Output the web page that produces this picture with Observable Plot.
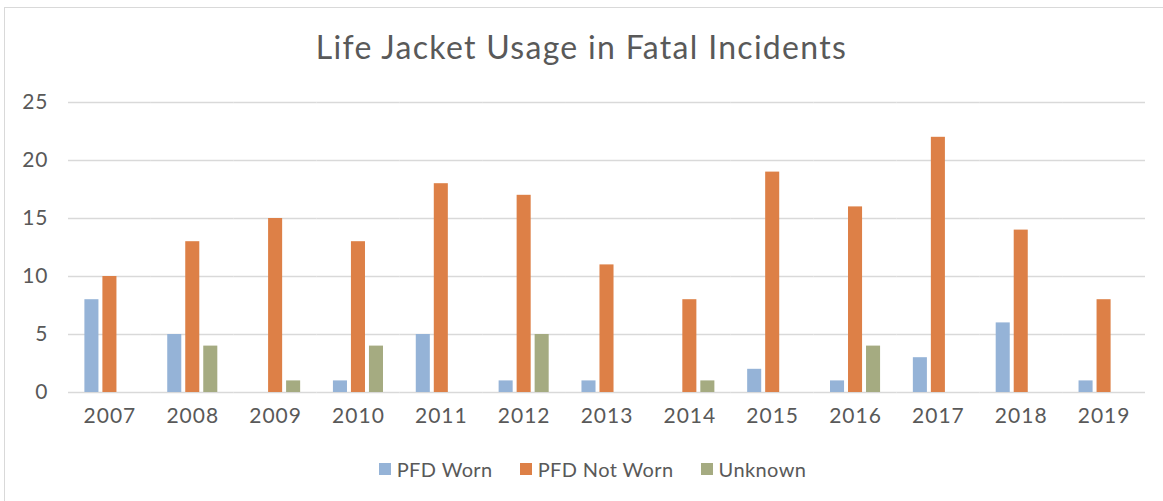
<!DOCTYPE html>
<html>
<head>
<meta charset="utf-8">
<script src="https://cdn.jsdelivr.net/npm/d3@7"></script>
<script src="https://cdn.jsdelivr.net/npm/@observablehq/plot@0.6"></script>
<style>
  html, body { margin: 0; padding: 0; background: #fff; }
  body { width: 1163px; height: 501px; position: relative; overflow: hidden; font-family: Lato, "Open Sans", sans-serif; color: #595959; }
  #frame { position: absolute; left: 4px; top: 7px; width: 1180px; height: 520px; border: 1.5px solid #d9d9d9; box-sizing: border-box; }
  #title { position: absolute; left: 0; width: 1163px; top: 27px; text-align: center; font-size: 32px; letter-spacing: 1.3px; line-height: 40px; color: #595959; }
  #chart { position: absolute; left: 0; top: 0; }
  #legend { position: absolute; top: 457px; left: 11px; width: 1163px; display: flex; justify-content: center; gap: 27px; font-size: 20px; letter-spacing: 0.4px; line-height: 24px; }
  #legend span.item { display: inline-flex; align-items: center; }
  #legend span.sw { display: inline-block; width: 12px; height: 12px; margin-right: 6px; }
  #chart text { letter-spacing: 1px; }
</style>
</head>
<body>
<div id="frame"></div>
<div id="chart"></div>
<div id="title">Life Jacket Usage in Fatal Incidents</div>
<div id="legend"></div>
<script>
const years = ["2007","2008","2009","2010","2011","2012","2013","2014","2015","2016","2017","2018","2019"];
const seriesNames = ["PFD Worn", "PFD Not Worn", "Unknown"];
const pfdWorn    = [8, 5, 0, 1, 5, 1, 1, 0, 2, 1, 3, 6, 1];
const pfdNotWorn = [10, 13, 15, 13, 18, 17, 11, 8, 19, 16, 22, 14, 8];
const unknown    = [0, 4, 1, 4, 0, 5, 0, 1, 0, 4, 0, 0, 0];
const colors = ["#95b3d7", "#dd8047", "#a5ab81"];
const yTicks = [0, 5, 10, 15, 20, 25];

const data = [];
const seriesValues = [pfdWorn, pfdNotWorn, unknown];
years.forEach((yr, i) => {
  seriesNames.forEach((s, j) => data.push({year: yr, series: s, value: seriesValues[j][i]}));
});

const chart = Plot.plot({
  width: 1163,
  height: 501,
  marginTop: 102,
  marginBottom: 109,
  marginLeft: 68,
  marginRight: 18,
  style: {fontFamily: "Lato, 'Open Sans', sans-serif", fontSize: "21px", color: "#595959", background: "transparent"},
  fx: {domain: years, padding: 0, round: false, label: null, tickSize: 0, tickPadding: 16, axis: "bottom"},
  x: {domain: seriesNames, axis: null, round: false, paddingInner: 0.22, paddingOuter: 0.91},
  y: {domain: [0, 25], ticks: yTicks, tickSize: 0, tickPadding: 20, label: null, grid: false},
  color: {domain: seriesNames, range: colors},
  marks: [
    Plot.ruleY(yTicks, {stroke: "#d9d9d9", strokeWidth: 1.5}),
    Plot.barY(data, {fx: "year", x: "series", y: "value", fill: "series"})
  ]
});
document.getElementById("chart").appendChild(chart);

const legend = document.getElementById("legend");
seriesNames.forEach((s, j) => {
  const item = document.createElement("span");
  item.className = "item";
  const sw = document.createElement("span");
  sw.className = "sw";
  sw.style.background = colors[j];
  item.appendChild(sw);
  item.appendChild(document.createTextNode(s));
  legend.appendChild(item);
});
</script>
</body>
</html>
